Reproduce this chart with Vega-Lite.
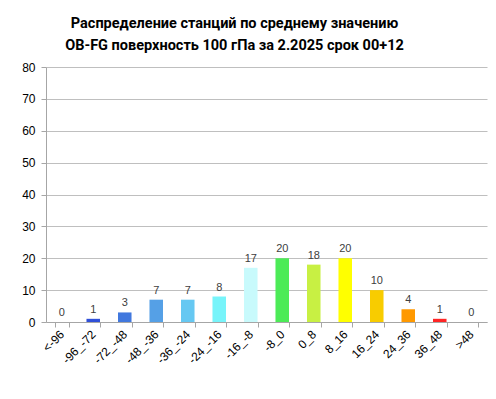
{
  "$schema": "https://vega.github.io/schema/vega-lite/v6.json",
  "width": 441,
  "height": 255,
  "autosize": {"type": "none"},
  "padding": {"left": 46, "top": 67, "right": 9, "bottom": 77},
  "background": "white",
  "title": {
    "text": ["Распределение станций по среднему значению", "OB-FG поверхность  100 гПа за 2.2025 срок 00+12"],
    "font": "Roboto",
    "fontSize": 14.5,
    "fontWeight": "bold",
    "color": "#000000",
    "anchor": "middle",
    "frame": "group",
    "dx": -32,
    "offset": 8,
    "lineHeight": 22
  },
  "data": {
    "values": [
      {"cat": "<-96", "n": 0, "color": "#FFFFFF"},
      {"cat": "-96_-72", "n": 1, "color": "#3050D8"},
      {"cat": "-72_-48", "n": 3, "color": "#4178DE"},
      {"cat": "-48_-36", "n": 7, "color": "#55A0E6"},
      {"cat": "-36_-24", "n": 7, "color": "#66C8F2"},
      {"cat": "-24_-16", "n": 8, "color": "#77F4FA"},
      {"cat": "-16_-8", "n": 17, "color": "#C8FAFC"},
      {"cat": "-8_0", "n": 20, "color": "#4CEB57"},
      {"cat": "0_8", "n": 18, "color": "#C8F043"},
      {"cat": "8_16", "n": 20, "color": "#FFFF00"},
      {"cat": "16_24", "n": 10, "color": "#F8CC00"},
      {"cat": "24_36", "n": 4, "color": "#FF9900"},
      {"cat": "36_48", "n": 1, "color": "#FF2525"},
      {"cat": ">48", "n": 0, "color": "#FFFFFF"}
    ]
  },
  "encoding": {
    "x": {
      "field": "cat",
      "type": "nominal",
      "sort": null,
      "scale": {"paddingInner": 0.57, "paddingOuter": 0.285},
      "axis": {
        "title": null,
        "labelAngle": -45,
        "labelAlign": "right",
        "labelBaseline": "middle",
        "labelFont": "Liberation Sans",
        "labelFontSize": 12,
        "labelColor": "#000000",
        "labelPadding": 5,
        "tickBand": "extent",
        "tickSize": 5,
        "tickColor": "#A6A6A6",
        "domainColor": "#A6A6A6",
        "grid": false
      }
    },
    "y": {
      "field": "n",
      "type": "quantitative",
      "scale": {"domain": [0, 80], "nice": false},
      "axis": {
        "title": null,
        "values": [0, 10, 20, 30, 40, 50, 60, 70, 80],
        "labelFont": "Liberation Sans",
        "labelFontSize": 12,
        "labelColor": "#000000",
        "labelPadding": 6,
        "tickSize": 5,
        "tickColor": "#A6A6A6",
        "domainColor": "#A6A6A6",
        "gridColor": "#BFBFBF",
        "gridWidth": 1
      }
    }
  },
  "layer": [
    {
      "mark": {"type": "bar"},
      "encoding": {
        "color": {"field": "color", "type": "nominal", "scale": null}
      }
    },
    {
      "mark": {"type": "text", "dy": -9, "font": "Liberation Sans", "fontSize": 11, "color": "#404040"},
      "encoding": {"text": {"field": "n", "type": "quantitative"}}
    }
  ],
  "config": {"view": {"stroke": null}}
}
